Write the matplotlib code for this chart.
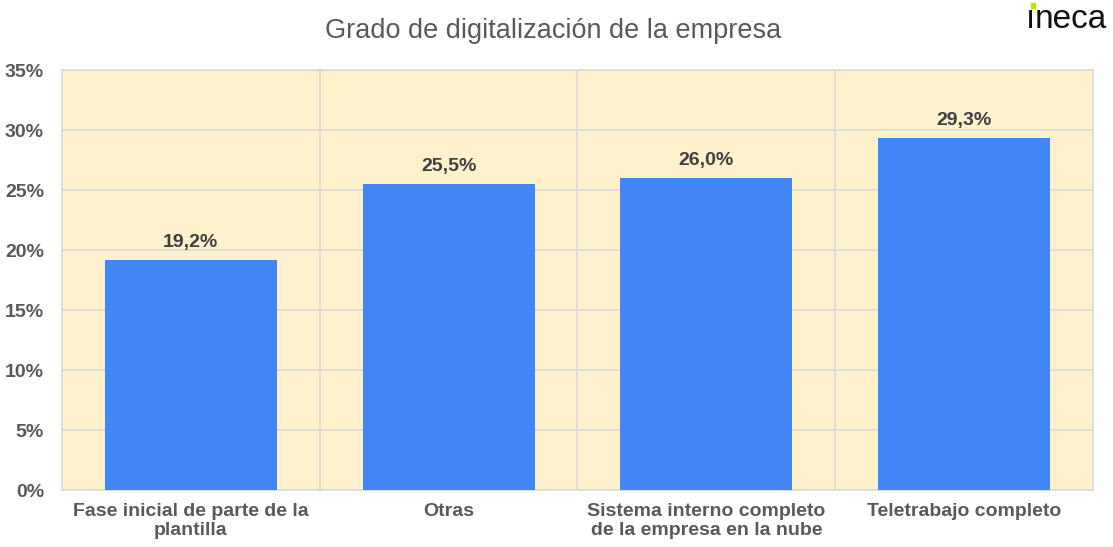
import matplotlib.pyplot as plt
from matplotlib.patches import Rectangle
from matplotlib.ticker import MultipleLocator, FuncFormatter

categories = ["Fase inicial de parte de la\nplantilla", "Otras",
              "Sistema interno completo\nde la empresa en la nube", "Teletrabajo completo"]
values = [19.2, 25.5, 26.0, 29.3]

plt.rcParams['font.family'] = ['Liberation Sans', 'DejaVu Sans']

fig = plt.figure(figsize=(11.13, 5.47), dpi=100)
ax = fig.add_axes([0.0557, 0.1042, 0.9263, 0.7678])
ax.set_facecolor('#FEF1CC')

x = range(len(categories))
ax.bar(x, values, width=0.667, color='#4285F4', zorder=3)
for xi, v in zip(x, values):
    ax.text(xi, v + 0.75, f"{v:.1f}%".replace('.', ','), ha='center', va='bottom',
            fontsize=14, fontweight='bold', color='#404040', zorder=4)

ax.set_xlim(-0.5, len(categories) - 0.5)
ax.set_ylim(0, 35)
ax.yaxis.set_major_locator(MultipleLocator(5))
ax.yaxis.set_major_formatter(FuncFormatter(lambda v, p: f"{v:.0f}%"))
ax.grid(axis='y', color='#D9D9D9', linewidth=1.2, zorder=1)
for b in [0.5, 1.5, 2.5]:
    ax.axvline(b, color='#D9D9D9', linewidth=1.2, zorder=1)

ax.set_xticks(list(x))
ax.set_xticklabels(categories)
ax.tick_params(length=0, labelsize=14, labelcolor='#595959', pad=9)
ax.tick_params(axis='y', pad=13)
for lbl in ax.get_xticklabels() + ax.get_yticklabels():
    lbl.set_fontweight('bold')
for s in ax.spines.values():
    s.set_color('#D9D9D9')
    s.set_linewidth(1.2)

fig.text(0.497, 0.943, "Grado de digitalización de la empresa", ha='center', va='center',
         fontsize=19.5, color='#595959')

# logo: dotless i + green dot, then "neca"
fig.canvas.draw()
rend = fig.canvas.get_renderer()
base_y = 1 - 28 / 547
t_i = fig.text(0.9215, base_y, "\u0131", ha='left', va='baseline', fontsize=24, color='#111111')
bb = t_i.get_window_extent(renderer=rend)
fig.text(bb.x1 / fig.bbox.width, base_y, "neca", ha='left', va='baseline', fontsize=24, color='#111111')
cx = (bb.x0 + bb.x1) / 2 / fig.bbox.width + 0.0025
fig.patches.append(Rectangle((cx - 0.0019, 1 - 8 / 547), 0.0038, 5 / 547,
                             transform=fig.transFigure, color='#C8E000', figure=fig))

fig.savefig("out.png", dpi=100)
